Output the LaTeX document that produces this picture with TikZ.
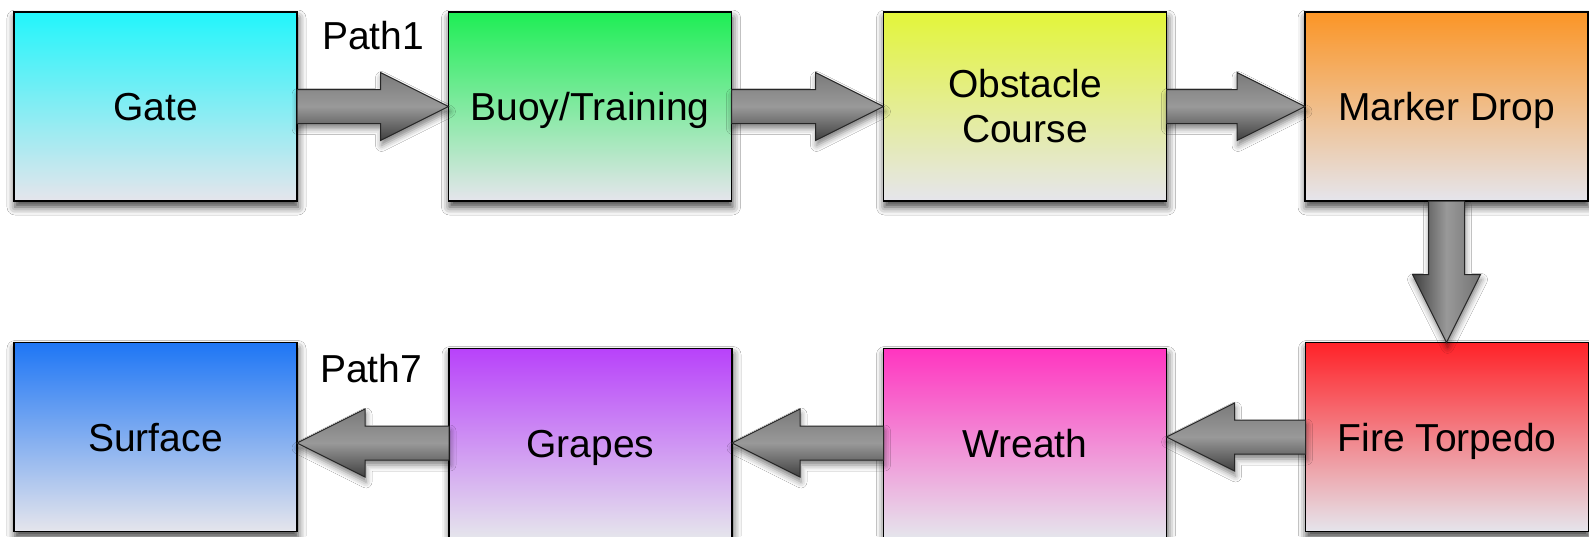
\documentclass[tikz,border=0pt]{standalone}
\usepackage{fontspec}
\setmainfont{Liberation Sans}
\usetikzlibrary{calc,shadows.blur}
\definecolor{cGate}{RGB}{34,245,251}
\definecolor{cBuoy}{RGB}{30,238,85}
\definecolor{cObst}{RGB}{227,245,58}
\definecolor{cMark}{RGB}{251,149,38}
\definecolor{cFire}{RGB}{255,34,40}
\definecolor{cWreath}{RGB}{255,53,192}
\definecolor{cGrape}{RGB}{184,66,250}
\definecolor{cSurf}{RGB}{30,118,245}
\definecolor{cBot}{RGB}{229,229,236}
\tikzset{
  box/.style={draw=black, line width=0.9pt, minimum width=141.5pt, minimum height=94.5pt,
    inner sep=0pt, outer sep=0pt, align=center, text height=14pt, text depth=0pt,
    font=\fontsize{19.5}{22.5}\selectfont, top color=#1, bottom color=cBot,
    blur shadow={shadow xshift=0.5pt, shadow yshift=-3pt, shadow blur radius=4pt, shadow opacity=75}},
  harr/.style={draw=black!85, line width=0.5pt, line join=miter,
    top color=black!52, bottom color=black!75, middle color=black!40,
    blur shadow={shadow xshift=0.5pt, shadow yshift=-2.5pt, shadow blur radius=3pt, shadow opacity=50}},
  varr/.style={draw=black!85, line width=0.5pt, line join=miter,
    left color=black!75, right color=black!55, middle color=black!40,
    blur shadow={shadow xshift=0.5pt, shadow yshift=-2.5pt, shadow blur radius=3pt, shadow opacity=50}},
  lbl/.style={font=\fontsize{19.5}{22.5}\selectfont, inner sep=0pt}
}
\newcommand\arrRight[2]{%
  \draw[harr] ($(#1.east)+(0,-17)$) -- ($(#2.west|-#1.east)+(-68,-17)$)
    -- ($(#2.west|-#1.east)+(-68,-34)$) -- (#2.west|-#1.east)
    -- ($(#2.west|-#1.east)+(-68,34)$) -- ($(#2.west|-#1.east)+(-68,17)$)
    -- ($(#1.east)+(0,17)$) -- cycle;}
\newcommand\arrLeft[2]{%
  \draw[harr] ($(#1.west)+(0,-17)$) -- ($(#2.east|-#1.west)+(68,-17)$)
    -- ($(#2.east|-#1.west)+(68,-34)$) -- (#2.east|-#1.west)
    -- ($(#2.east|-#1.west)+(68,34)$) -- ($(#2.east|-#1.west)+(68,17)$)
    -- ($(#1.west)+(0,17)$) -- cycle;}
\newcommand\arrDown[2]{%
  \draw[varr] ($(#1.south)+(-18,0)$) -- ($(#1.south|-#2.north)+(-18,-68)$)
    -- ($(#1.south|-#2.north)+(-34,-68)$) -- (#1.south|-#2.north)
    -- ($(#1.south|-#2.north)+(34,-68)$) -- ($(#1.south|-#2.north)+(18,-68)$)
    -- ($(#1.south)+(18,0)$) -- cycle;}
\begin{document}
\begin{tikzpicture}[x=0.5pt,y=-0.5pt]
\fill[white] (0,0) rectangle (1589,536);
\useasboundingbox (0,0) rectangle (1589,536);
% top row
\node[box=cGate]  (gate)  at (155.5,106.5) {Gate};
\node[box=cBuoy]  (buoy)  at (590,106.5)   {Buoy/Training};
\node[box=cObst, text height={}, text depth={}] (obst) at (1025,106.5) {Obstacle\\Course};
\node[box=cMark]  (mark)  at (1446.5,106.5) {Marker Drop};
% bottom row
\node[box=cSurf]   (surf)   at (155.5,437) {Surface};
\node[box=cGrape]  (grape)  at (590.5,443) {Grapes};
\node[box=cWreath] (wreath) at (1025,443)  {Wreath};
\node[box=cFire]   (fire)   at (1447,437)  {Fire Torpedo};
% arrows
\arrRight{gate}{buoy}
\arrRight{buoy}{obst}
\arrRight{obst}{mark}
\arrDown{mark}{fire}
\arrLeft{fire}{wreath}
\arrLeft{wreath}{grape}
\arrLeft{grape}{surf}
% labels
\node[lbl] (p1) at (373,36)  {Path1};
\node[lbl] (p7) at (371,369) {Path7};
\end{tikzpicture}
\end{document}
